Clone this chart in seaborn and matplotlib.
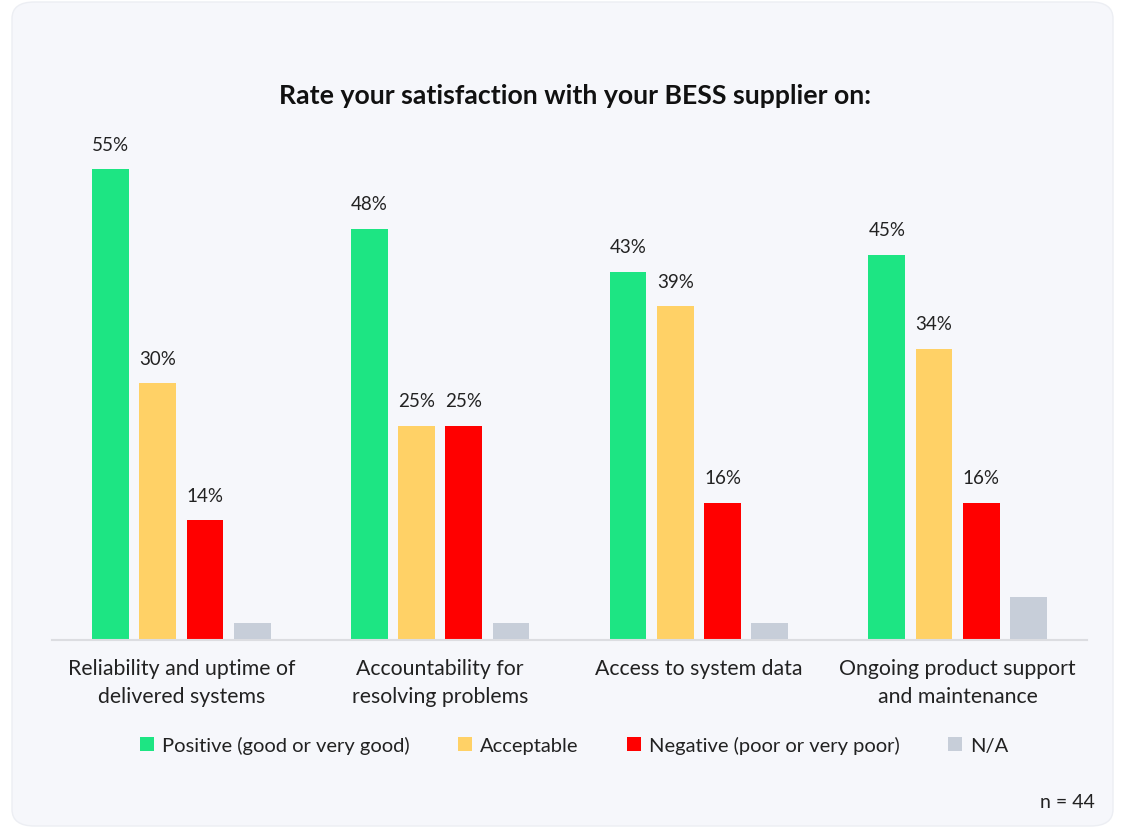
import matplotlib
matplotlib.use("Agg")
import matplotlib.pyplot as plt
from matplotlib.patches import FancyBboxPatch, Patch
import pandas as pd
import seaborn as sns

# Survey results (% of respondents, n = 44)
aspects = [
    "Reliability and uptime of\ndelivered systems",
    "Accountability for\nresolving problems",
    "Access to system data",
    "Ongoing product support\nand maintenance",
]
ratings = [
    "Positive (good or very good)",
    "Acceptable",
    "Negative (poor or very poor)",
    "N/A",
]
positive = [55, 48, 43, 45]
acceptable = [30, 25, 39, 34]
negative = [14, 25, 16, 16]
not_applicable = [2, 2, 2, 5]
colors = ["#1de583", "#ffd166", "#ff0000", "#c7ced9"]

series = [positive, acceptable, negative, not_applicable]
df = pd.DataFrame(
    [(a, r, v) for r, vals in zip(ratings, series) for a, v in zip(aspects, vals)],
    columns=["aspect", "rating", "share"],
)

sns.set_theme(style="white")
plt.rcParams["font.family"] = ["Lato", "DejaVu Sans"]

fig = plt.figure(figsize=(11.21, 8.29), dpi=100)
fig.patch.set_facecolor("white")
card = FancyBboxPatch(
    (12 / 1121, 2 / 829), 1101 / 1121, 824 / 829,
    boxstyle="round,pad=0,rounding_size=0.02",
    transform=fig.transFigure, facecolor="#f6f7fb", edgecolor="#eceef3",
    linewidth=1, zorder=-10,
)
fig.patches.append(card)

ax = fig.add_axes([52 / 1121, 188 / 829, 1035 / 1121, 0.6195])
ax.set_facecolor("none")
sns.barplot(
    data=df, x="aspect", y="share", hue="rating",
    order=aspects, hue_order=ratings, palette=colors,
    width=0.73, gap=0.22, saturation=1, linewidth=0, legend=False, ax=ax,
)

for container in ax.containers[:3]:
    ax.bar_label(container, labels=[f"{v:.0f}%" for v in container.datavalues],
                 padding=12, fontsize=13.5, color="#222222")

ax.set_ylim(0, 60)
ax.set_xlim(-0.5, 3.5)
ax.set_xlabel("")
ax.set_ylabel("")
ax.set_yticks([])
for side in ["top", "right", "left"]:
    ax.spines[side].set_visible(False)
ax.spines["bottom"].set_color("#dcdde1")
ax.spines["bottom"].set_linewidth(1.5)
ax.tick_params(axis="x", length=0, pad=13, labelsize=15.3, labelcolor="#222222")
for lbl in ax.get_xticklabels():
    lbl.set_linespacing(1.5)

fig.text(0.5125, 0.884, "Rate your satisfaction with your BESS supplier on:",
         ha="center", va="center", fontsize=19.2, fontweight="bold", color="#111111")

handles = [Patch(facecolor=c, edgecolor="none") for c in colors]
fig.legend(handles, ratings, loc="center", bbox_to_anchor=(0.512, 0.1),
           ncol=4, frameon=False, fontsize=14.5, handlelength=0.7, handleheight=0.7,
           handletextpad=0.4, columnspacing=2.4, labelcolor="#222222")

fig.text(1095 / 1121, 1 - 803 / 829, "n = 44", ha="right", va="center",
         fontsize=14, color="#222222")

fig.savefig("out.png", dpi=100, facecolor=fig.get_facecolor())
